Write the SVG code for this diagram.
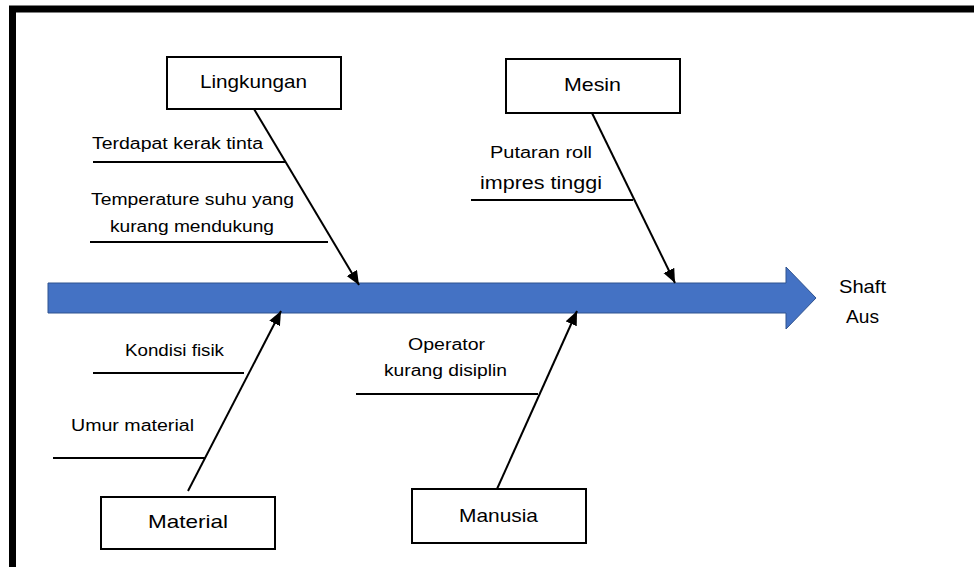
<svg xmlns="http://www.w3.org/2000/svg" width="974" height="567" viewBox="0 0 974 567">
<style>
.box{fill:#fff;stroke:#000;stroke-width:2}
.t{font-family:"Liberation Sans",Arial,sans-serif;fill:#000}
.big{font-size:18.5px}
.sm{font-size:16px}
.bone{stroke:#000;stroke-width:2;fill:none}
.sub{stroke:#000;stroke-width:2;fill:none}
</style>
<defs>
<marker id="ah" markerUnits="userSpaceOnUse" markerWidth="16" markerHeight="14" refX="14" refY="6" orient="auto">
<path d="M0,0 L14,6 L0,12 Z" fill="#000"/>
</marker>
</defs>
<rect x="0" y="0" width="974" height="567" fill="#fff"/>
<rect x="12.5" y="9" width="1000" height="600" fill="none" stroke="#000" stroke-width="7"/>

<g id="spine">
<path d="M48,283 L786,283 L786,267 L816,298 L786,329 L786,313 L48,313 Z" fill="#4472C4" stroke="#2F528F" stroke-width="1"/>
</g>

<g id="connectors">
<line class="bone" x1="254" y1="109" x2="359" y2="285" marker-end="url(#ah)"/>
<line class="bone" x1="592" y1="113" x2="675" y2="283" marker-end="url(#ah)"/>
<line class="bone" x1="188" y1="491" x2="281" y2="311" marker-end="url(#ah)"/>
<line class="bone" x1="497" y1="489" x2="577" y2="311" marker-end="url(#ah)"/>
<line class="sub" x1="93" y1="162" x2="285" y2="162"/>
<line class="sub" x1="90" y1="242" x2="328" y2="242"/>
<line class="sub" x1="471" y1="200" x2="633" y2="200"/>
<line class="sub" x1="93" y1="373" x2="244" y2="373"/>
<line class="sub" x1="53" y1="458" x2="205" y2="458"/>
<line class="sub" x1="356" y1="394" x2="538" y2="394"/>
</g>

<g id="lingkungan">
<rect class="box" x="167" y="57" width="174" height="52"/>
<text class="t big" x="200" y="88" textLength="107" lengthAdjust="spacingAndGlyphs">Lingkungan</text>
</g>
<g id="mesin">
<rect class="box" x="506" y="59" width="174" height="54"/>
<text class="t big" x="564" y="91" textLength="57" lengthAdjust="spacingAndGlyphs">Mesin</text>
</g>
<g id="material">
<rect class="box" x="101" y="497" width="174" height="52"/>
<text class="t big" x="148" y="528" textLength="80" lengthAdjust="spacingAndGlyphs">Material</text>
</g>
<g id="manusia">
<rect class="box" x="412" y="489" width="174" height="54"/>
<text class="t big" x="459" y="522" textLength="79" lengthAdjust="spacingAndGlyphs">Manusia</text>
</g>
<g id="effect">
<text class="t big" x="839" y="293" textLength="47" lengthAdjust="spacingAndGlyphs">Shaft</text>
<text class="t big" x="846" y="323" textLength="33" lengthAdjust="spacingAndGlyphs">Aus</text>
</g>

<g id="causes">
<text class="t sm" x="92" y="149" textLength="171" lengthAdjust="spacingAndGlyphs">Terdapat kerak tinta</text>
<text class="t sm" x="91" y="205" textLength="203" lengthAdjust="spacingAndGlyphs">Temperature suhu yang</text>
<text class="t sm" x="110" y="232" textLength="164" lengthAdjust="spacingAndGlyphs">kurang mendukung</text>
<text class="t sm" x="490" y="158" textLength="102" lengthAdjust="spacingAndGlyphs">Putaran roll</text>
<text class="t" style="font-size:17.5px" x="480" y="189" textLength="122" lengthAdjust="spacingAndGlyphs">impres tinggi</text>
<text class="t sm" x="125" y="356" textLength="99" lengthAdjust="spacingAndGlyphs">Kondisi fisik</text>
<text class="t sm" x="71" y="431" textLength="123" lengthAdjust="spacingAndGlyphs">Umur material</text>
<text class="t sm" x="408" y="350" textLength="77" lengthAdjust="spacingAndGlyphs">Operator</text>
<text class="t sm" x="384" y="376" textLength="123" lengthAdjust="spacingAndGlyphs">kurang disiplin</text>
</g>
</svg>
